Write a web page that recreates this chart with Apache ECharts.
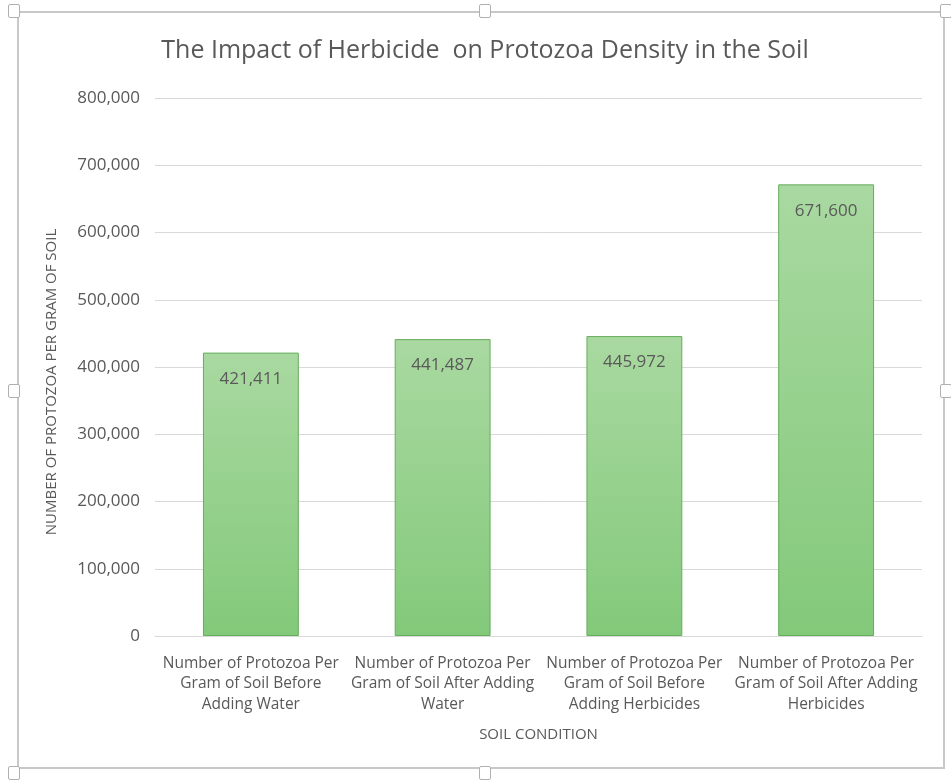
<!DOCTYPE html>
<html>
<head>
<meta charset="utf-8">
<script src="https://cdn.jsdelivr.net/npm/echarts@6/dist/echarts.min.js"></script>
<style>
  html, body { margin: 0; padding: 0; background: #fff; }
  #chart { width: 951px; height: 782px; }
  .frame {
    position: absolute; left: 17px; top: 11px; width: 928px; height: 758px;
    border: 2px solid #c8c8c8; box-sizing: border-box; pointer-events: none;
  }
  .handle {
    position: absolute; width: 10px; height: 12px; background: #fff;
    border: 1px solid #b0b0b0; border-radius: 2px; pointer-events: none;
  }
</style>
</head>
<body>
<div id="chart"></div>
<div class="frame"></div>
<div class="handle" style="left:8px;top:4px"></div>
<div class="handle" style="left:479px;top:4px"></div>
<div class="handle" style="left:940px;top:4px"></div>
<div class="handle" style="left:8px;top:384px"></div>
<div class="handle" style="left:940px;top:384px"></div>
<div class="handle" style="left:8px;top:766px"></div>
<div class="handle" style="left:479px;top:766px"></div>
<script>
// categories and values
const categories = [
  'Number of Protozoa Per\nGram of Soil Before\nAdding Water',
  'Number of Protozoa Per\nGram of Soil After Adding\nWater',
  'Number of Protozoa Per\nGram of Soil Before\nAdding Herbicides',
  'Number of Protozoa Per\nGram of Soil After Adding\nHerbicides'
]
const protozoaCounts = [421411, 441487, 445972, 671600]

const textColor = '#595959'
const font = '"Open Sans", sans-serif'

const mychart = echarts.init(document.getElementById('chart'))

const option = {
  animation: false,
  title: {
    text: 'The Impact of Herbicide  on Protozoa Density in the Soil',
    left: 480,
    textAlign: 'center',
    top: 33,
    textStyle: { color: textColor, fontSize: 25, fontWeight: 'normal', fontFamily: font }
  },
  grid: { left: 155, right: 29, top: 98, bottom: 146 },
  xAxis: {
    type: 'category',
    data: categories,
    name: 'SOIL CONDITION',
    nameLocation: 'middle',
    nameGap: 91,
    nameTextStyle: { color: textColor, fontSize: 15, fontFamily: font },
    axisTick: { show: false },
    axisLine: { lineStyle: { color: '#d9d9d9' } },
    axisLabel: { color: textColor, fontSize: 15.5, lineHeight: 20.5, margin: 17, fontFamily: font, interval: 0 }
  },
  yAxis: {
    type: 'value',
    min: 0,
    max: 800000,
    interval: 100000,
    name: 'NUMBER OF PROTOZOA PER GRAM OF SOIL',
    nameLocation: 'middle',
    nameGap: 96,
    nameTextStyle: { color: textColor, fontSize: 15, fontFamily: font, padding: [0, 30, 0, 0] },
    axisLabel: {
      color: textColor, fontSize: 17, margin: 15, fontFamily: font,
      formatter: (v) => v.toLocaleString('en-US')
    },
    splitLine: { lineStyle: { color: '#d9d9d9', width: 1 } }
  },
  series: [
    {
      type: 'bar',
      data: protozoaCounts,
      barWidth: '50%',
      itemStyle: {
        color: new echarts.graphic.LinearGradient(0, 0, 0, 1, [
          { offset: 0, color: '#a9d9a1' },
          { offset: 1, color: '#83c97a' }
        ]),
        borderColor: '#66ad5c',
        borderWidth: 1
      },
      label: {
        show: true,
        position: 'insideTop',
        distance: 18,
        color: textColor,
        fontSize: 17,
        fontFamily: font,
        formatter: (p) => p.value.toLocaleString('en-US')
      }
    }
  ]
}

mychart.setOption(option)
</script>
</body>
</html>
